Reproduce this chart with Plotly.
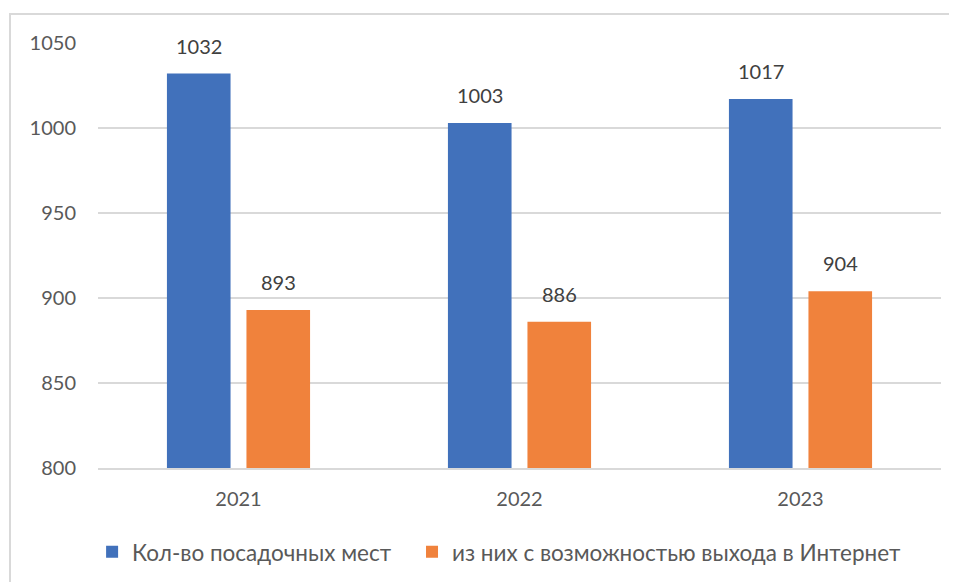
import plotly.graph_objects as go

years = ["2021", "2022", "2023"]
seats = [1032, 1003, 1017]
seats_internet = [893, 886, 904]

series = [
    ("Кол-во посадочных мест", seats, "#4171bb", "legend"),
    ("из них с возможностью выхода в Интернет", seats_internet, "#f0823c", "legend2"),
]

fig = go.Figure()

for name, values, color, leg in series:
    fig.add_trace(
        go.Bar(
            x=years,
            y=values,
            name=name,
            marker_color=color,
            marker_line_width=0,
            legend=leg,
        )
    )

# data labels sit well above the bars (Excel style), so use annotations
# (x given as category index, since "2021" would be read as an index)
offsets = [-39.75, 39.75]
for (name, values, color, leg), dx in zip(series, offsets):
    for i, v in enumerate(values):
        fig.add_annotation(
            x=i,
            y=v,
            text=str(v),
            showarrow=False,
            xshift=dx,
            yanchor="bottom",
            yshift=14,
            font=dict(size=20, color="#404040"),
        )

legend_style = dict(
    orientation="h",
    xanchor="left",
    y=-0.198,
    yanchor="middle",
    font=dict(size=22.5, color="#595959"),
    itemwidth=30,
    bgcolor="rgba(0,0,0,0)",
)

fig.update_layout(
    width=957,
    height=582,
    margin=dict(l=90, r=24, t=35, b=122),
    plot_bgcolor="white",
    paper_bgcolor="white",
    font=dict(family="Lato, Open Sans, sans-serif", size=20, color="#595959"),
    barmode="group",
    bargap=0.434,
    bargroupgap=0.2,
    showlegend=True,
    legend=dict(x=-0.007, **legend_style),
    legend2=dict(x=0.3725, **legend_style),
)

fig.update_yaxes(
    range=[800, 1050],
    dtick=50,
    showgrid=True,
    gridcolor="#d9d9d9",
    gridwidth=1.5,
    zeroline=False,
    showline=False,
    ticks="",
    ticklabelstandoff=21,
    tickfont=dict(size=20, color="#595959"),
)
fig.update_xaxes(
    type="category",
    showline=True,
    linecolor="#d9d9d9",
    linewidth=1.5,
    ticks="",
    tickfont=dict(size=20, color="#595959"),
    ticklabelstandoff=12,
)

# chart area border (only left and top edges fall inside the picture)
fig.add_shape(
    type="path",
    xref="paper",
    yref="paper",
    path="M -0.1044,-0.5 L -0.1044,1.068 L 1.2,1.068",
    line=dict(color="#d9d9d9", width=2),
    layer="below",
)

fig.write_html("out.html")
